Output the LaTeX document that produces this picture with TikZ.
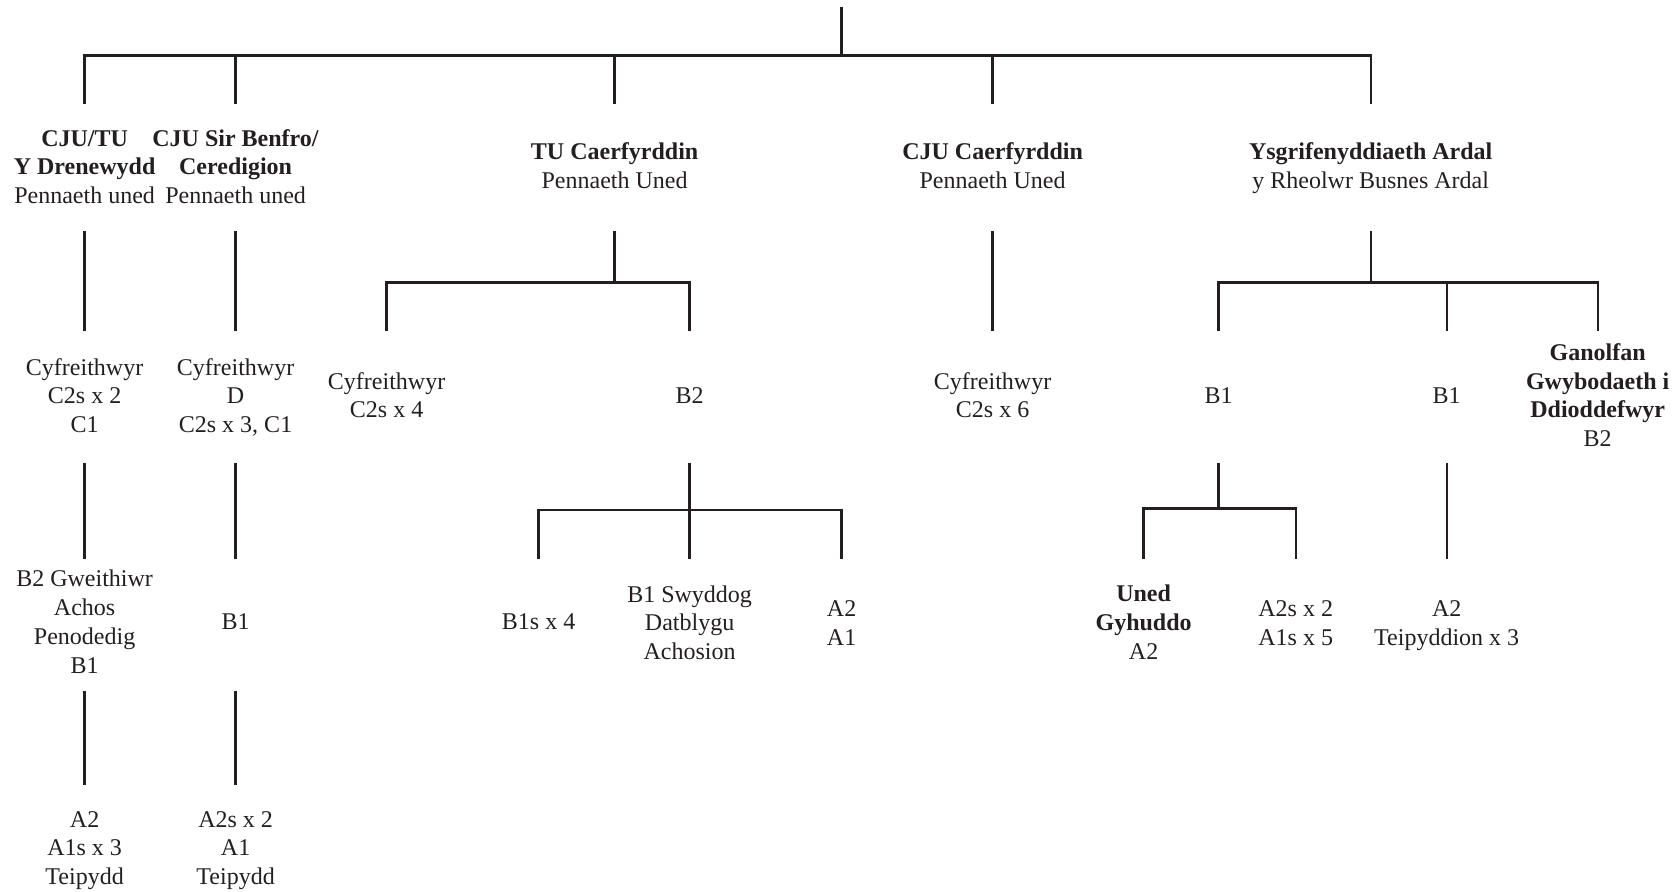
\documentclass[tikz,border=0pt]{standalone}
\usepackage{fontspec}
\setmainfont{Liberation Serif}
\definecolor{ink}{HTML}{231F20}
\newcommand\ls{\rule[-3.25pt]{0pt}{14.4pt}}
\begin{document}
\begin{tikzpicture}[x=0.5pt,y=-0.5pt,
  txt/.style={align=center,font=\fontsize{12}{14.4}\selectfont,text=ink,inner sep=0pt},
  conn/.style={draw=ink,line width=1.2pt}]
\useasboundingbox (0,0) rectangle (1679,892);
% ---------- text nodes ----------
% level 1
\node[txt] (l1a) at (84.6,167) {\ls\textbf{CJU/TU}\\\ls\textbf{Y Drenewydd}\\\ls Pennaeth uned};
\node[txt] (l1b) at (235.6,167) {\ls\textbf{CJU Sir Benfro/}\\\ls\textbf{Ceredigion}\\\ls Pennaeth uned};
\node[txt] (l1c) at (614.6,166.5) {\ls\textbf{TU Caerfyrddin}\\\ls Pennaeth Uned};
\node[txt] (l1d) at (992.6,166.5) {\ls\textbf{CJU Caerfyrddin}\\\ls Pennaeth Uned};
\node[txt] (l1e) at (1370.7,166.5) {\ls\textbf{Ysgrifenyddiaeth Ardal}\\\ls y Rheolwr Busnes Ardal};
% level 2
\node[txt] (l2a) at (84.6,396) {\ls Cyfreithwyr\\\ls C2s x 2\\\ls C1};
\node[txt] (l2b) at (235.6,396) {\ls Cyfreithwyr\\\ls D\\\ls C2s x 3, C1};
\node[txt] (l2c) at (386.6,395.6) {\ls Cyfreithwyr\\\ls C2s x 4};
\node[txt] (l2d) at (689.6,395.6) {\ls B2};
\node[txt] (l2e) at (992.6,395.6) {\ls Cyfreithwyr\\\ls C2s x 6};
\node[txt] (l2f) at (1218.6,395.6) {\ls B1};
\node[txt] (l2g) at (1446.7,395.6) {\ls B1};
\node[txt] (l2h) at (1597.7,395.6) {\ls\textbf{Ganolfan}\\\ls\textbf{Gwybodaeth i}\\\ls\textbf{Ddioddefwyr}\\\ls B2};
% level 3
\node[txt] (l3a) at (84.6,622) {\ls B2 Gweithiwr\\\ls Achos\\\ls Penodedig\\\ls B1};
\node[txt] (l3b) at (235.6,622) {\ls B1};
\node[txt] (l3c) at (538.6,622) {\ls B1s x 4};
\node[txt] (l3d) at (689.6,623) {\ls B1 Swyddog\\\ls Datblygu\\\ls Achosion};
\node[txt] (l3e) at (841.6,622.7) {\ls A2\\\ls A1};
\node[txt] (l3f) at (1143.6,622.3) {\ls\textbf{Uned}\\\ls\textbf{Gyhuddo}\\\ls A2};
\node[txt] (l3g) at (1295.7,622.7) {\ls A2s x 2\\\ls A1s x 5};
\node[txt] (l3h) at (1446.7,622.7) {\ls A2\\\ls Teipyddion x 3};
% level 4
\node[txt] (l4a) at (84.6,848) {\ls A2\\\ls A1s x 3\\\ls Teipydd};
\node[txt] (l4b) at (235.6,848) {\ls A2s x 2\\\ls A1\\\ls Teipydd};
% ---------- coordinates ----------
\coordinate (top) at (841.6,7);
\coordinate (topj) at (841.6,55.5);
\coordinate (barL) at (84.6,55.5);
\coordinate (barR) at (1370.7,55.5);
\foreach \n/\x in {a/84.6,b/235.6,c/614.6,d/992.6,e/1370.7}{
  \coordinate (d1\n) at (\x,104);
  \coordinate (s1\n) at (\x,231.5);
}
\coordinate (bj1a) at (84.6,55.5);
\coordinate (bj1b) at (235.6,55.5);
\coordinate (bj1c) at (614.6,55.5);
\coordinate (bj1d) at (992.6,55.5);
\coordinate (bj1e) at (1370.7,55.5);
% under level 1
\coordinate (e1a) at (84.6,331);
\coordinate (e1b) at (235.6,331);
\coordinate (e1d) at (992.6,331);
\coordinate (j1c) at (614.6,282.7);
\coordinate (j1cL) at (386.6,282.7);
\coordinate (j1cR) at (689.6,282.7);
\coordinate (e1cL) at (386.6,331);
\coordinate (e1cR) at (689.6,331);
\coordinate (j1e) at (1370.7,282.7);
\coordinate (j1eL) at (1218.6,282.7);
\coordinate (j1eM) at (1446.7,282.7);
\coordinate (j1eR) at (1597.7,282.7);
\coordinate (e1eL) at (1218.6,331);
\coordinate (e1eM) at (1446.7,331);
\coordinate (e1eR) at (1597.7,331);
% under level 2
\foreach \n/\x in {a/84.6,b/235.6,d/689.6,f/1218.6,g/1446.7}{
  \coordinate (s2\n) at (\x,463);
}
\coordinate (e2a) at (84.6,558.5);
\coordinate (e2b) at (235.6,558.5);
\coordinate (e2g) at (1446.7,558.5);
\coordinate (j2d) at (689.6,510);
\coordinate (j2dL) at (538.6,510);
\coordinate (j2dR) at (841.6,510);
\coordinate (e2dL) at (538.6,558.5);
\coordinate (e2dM) at (689.6,558.5);
\coordinate (e2dR) at (841.6,558.5);
\coordinate (j2f) at (1218.6,508.6);
\coordinate (j2fL) at (1143.6,508.6);
\coordinate (j2fR) at (1295.7,508.6);
\coordinate (e2fL) at (1143.6,558.5);
\coordinate (e2fR) at (1295.7,558.5);
% under level 3
\coordinate (s3a) at (84.6,690.5);
\coordinate (s3b) at (235.6,690.5);
\coordinate (e3a) at (84.6,785);
\coordinate (e3b) at (235.6,785);
% ---------- connectors ----------
\draw[conn] (top) -- (topj);
\draw[conn] (d1a) -- (barL) -- (barR) -- (d1e);
\foreach \n in {b,c,d}{\draw[conn] (bj1\n) -- (d1\n);}
\draw[conn] (s1a) -- (e1a);
\draw[conn] (s1b) -- (e1b);
\draw[conn] (s1d) -- (e1d);
\draw[conn] (s1c) -- (j1c);
\draw[conn] (e1cL) -- (j1cL) -- (j1cR) -- (e1cR);
\draw[conn] (s1e) -- (j1e);
\draw[conn] (e1eL) -- (j1eL) -- (j1eR) -- (e1eR);
\draw[conn] (j1eM) -- (e1eM);
\draw[conn] (s2a) -- (e2a);
\draw[conn] (s2b) -- (e2b);
\draw[conn] (s2g) -- (e2g);
\draw[conn] (s2d) -- (e2dM);
\draw[conn] (e2dL) -- (j2dL) -- (j2dR) -- (e2dR);
\draw[conn] (s2f) -- (j2f);
\draw[conn] (e2fL) -- (j2fL) -- (j2fR) -- (e2fR);
\draw[conn] (s3a) -- (e3a);
\draw[conn] (s3b) -- (e3b);
\end{tikzpicture}
\end{document}
